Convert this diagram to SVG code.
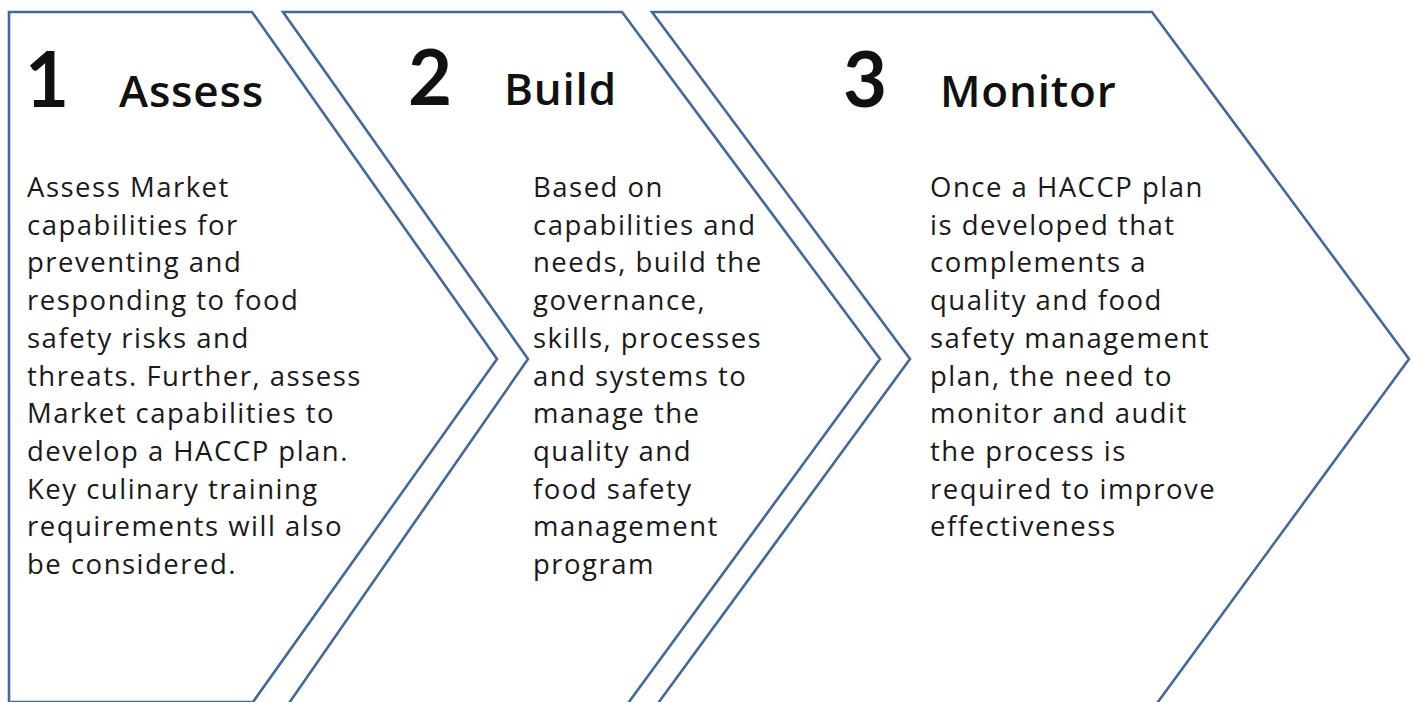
<svg xmlns="http://www.w3.org/2000/svg" width="1414" height="702" viewBox="0 0 1414 702">
  <style>
    .chev { fill: #ffffff; stroke: #46679a; stroke-width: 2.6; stroke-linejoin: miter; }
    .num { font-family: Lato, "Liberation Sans", sans-serif; font-weight: 700; font-size: 76px; fill: #111111; }
    .head { font-family: "Open Sans", "Liberation Sans", sans-serif; font-weight: 600; font-size: 44px; letter-spacing: 0.8px; fill: #111111; }
    .body { font-family: "Open Sans", "Liberation Sans", sans-serif; font-size: 27.5px; letter-spacing: 1.5px; fill: #1a1a1a; }
  </style>
  <rect width="1414" height="702" fill="#ffffff"/>

  <!-- step 1: plain-backed chevron -->
  <g id="step-assess">
    <polygon class="chev" points="9,12 252,12 497,359 253,702 9,702"/>
    <text class="num" x="25" y="107">1</text>
    <text class="head" x="119" y="107">Assess</text>
    <text class="body" x="27" y="197">
      <tspan x="27" dy="0">Assess Market</tspan>
      <tspan x="27" dy="37.7">capabilities for</tspan>
      <tspan x="27" dy="37.7">preventing and</tspan>
      <tspan x="27" dy="37.7">responding to food</tspan>
      <tspan x="27" dy="37.7">safety risks and</tspan>
      <tspan x="27" dy="37.7">threats. Further, assess</tspan>
      <tspan x="27" dy="37.7">Market capabilities to</tspan>
      <tspan x="27" dy="37.7">develop a HACCP plan.</tspan>
      <tspan x="27" dy="37.7">Key culinary training</tspan>
      <tspan x="27" dy="37.7">requirements will also</tspan>
      <tspan x="27" dy="37.7">be considered.</tspan>
    </text>
  </g>

  <!-- step 2: notched chevron -->
  <g id="step-build">
    <polygon class="chev" points="283,12 622,12 880,359 626,706 287,706 528,359"/>
    <text class="num" x="408" y="105">2</text>
    <text class="head" x="504" y="105">Build</text>
    <text class="body" x="533" y="197">
      <tspan x="533" dy="0">Based on</tspan>
      <tspan x="533" dy="37.7">capabilities and</tspan>
      <tspan x="533" dy="37.7">needs, build the</tspan>
      <tspan x="533" dy="37.7">governance,</tspan>
      <tspan x="533" dy="37.7">skills, processes</tspan>
      <tspan x="533" dy="37.7">and systems to</tspan>
      <tspan x="533" dy="37.7">manage the</tspan>
      <tspan x="533" dy="37.7">quality and</tspan>
      <tspan x="533" dy="37.7">food safety</tspan>
      <tspan x="533" dy="37.7">management</tspan>
      <tspan x="533" dy="37.7">program</tspan>
    </text>
  </g>

  <!-- step 3: notched chevron -->
  <g id="step-monitor">
    <polygon class="chev" points="652,12 1152,12 1409,359 1155,706 656,706 910,359"/>
    <text class="num" x="843" y="107">3</text>
    <text class="head" x="940" y="107">Monitor</text>
    <text class="body" x="930" y="197">
      <tspan x="930" dy="0">Once a HACCP plan</tspan>
      <tspan x="930" dy="37.7">is developed that</tspan>
      <tspan x="930" dy="37.7">complements a</tspan>
      <tspan x="930" dy="37.7">quality and food</tspan>
      <tspan x="930" dy="37.7">safety management</tspan>
      <tspan x="930" dy="37.7">plan, the need to</tspan>
      <tspan x="930" dy="37.7">monitor and audit</tspan>
      <tspan x="930" dy="37.7">the process is</tspan>
      <tspan x="930" dy="37.7">required to improve</tspan>
      <tspan x="930" dy="37.7">effectiveness</tspan>
    </text>
  </g>

  <g id="connectors"></g>
</svg>
